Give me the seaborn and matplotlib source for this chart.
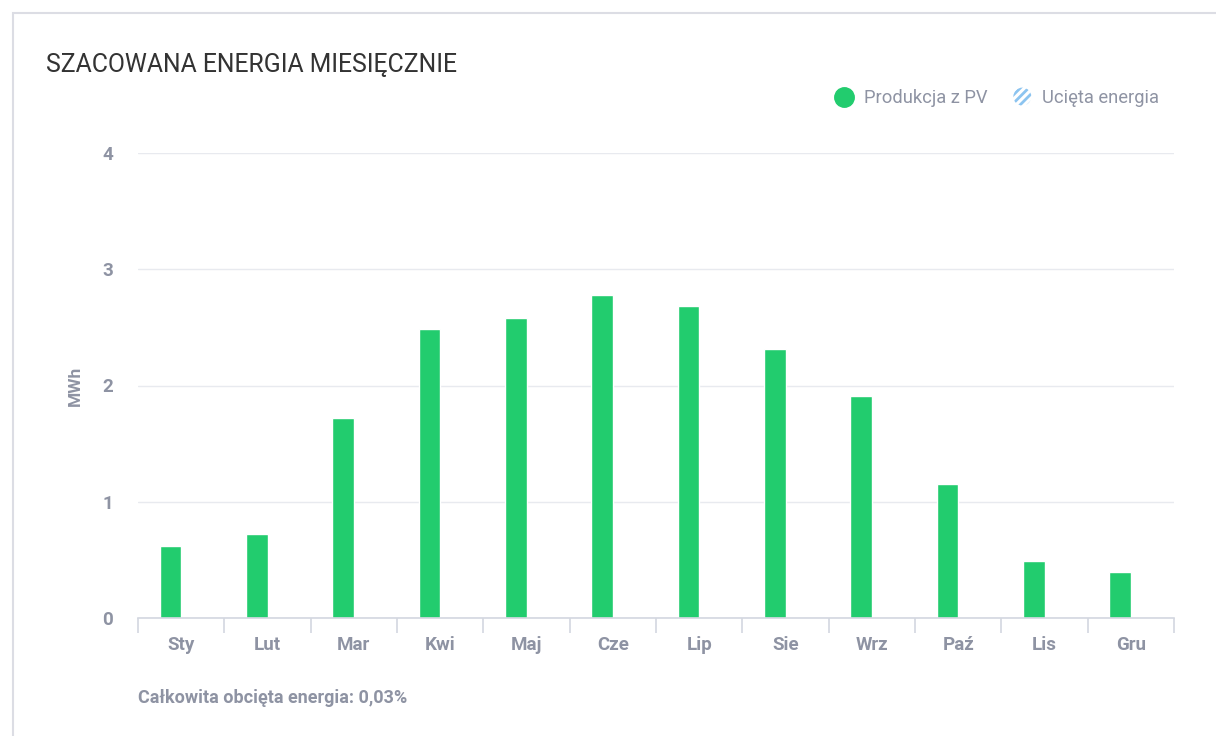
import matplotlib
matplotlib.use('Agg')
import matplotlib.pyplot as plt
import matplotlib.patches as mpatches
from matplotlib.legend_handler import HandlerPatch
from matplotlib.lines import Line2D
import seaborn as sns
import pandas as pd

months = ['Sty', 'Lut', 'Mar', 'Kwi', 'Maj', 'Cze', 'Lip', 'Sie', 'Wrz', 'Paź', 'Lis', 'Gru']
production = [0.62, 0.72, 1.72, 2.49, 2.58, 2.78, 2.68, 2.31, 1.91, 1.15, 0.49, 0.40]
curtailed = [0, 0, 0, 0, 0, 0, 0, 0, 0, 0, 0, 0]
series = ['Produkcja z PV', 'Ucięta energia']
y_ticks = [0, 1, 2, 3, 4]

df = pd.DataFrame({
    'month': months * 2,
    'mwh': production + curtailed,
    'series': [series[0]] * len(months) + [series[1]] * len(months),
})

sns.set_theme(style='white')
plt.rcParams['font.family'] = ['Roboto', 'DejaVu Sans']
plt.rcParams['hatch.linewidth'] = 2.0

green = '#22cc6e'
blue = '#8cc4f0'
grey_txt = '#8e93a3'
grid_col = '#e8eaef'


class CircleHatch(HandlerPatch):
    # round legend icon filled with stripes
    def create_artists(self, legend, orig_handle, xdescent, ydescent, width, height, fontsize, trans):
        c = mpatches.Circle((width / 2 - xdescent, height / 2 - ydescent), radius=height * 0.7,
                            facecolor='white', edgecolor=blue, hatch='////', linewidth=0,
                            transform=trans)
        return [c]


fig = plt.figure(figsize=(12.16, 7.36), dpi=100)
# card border
fig.patches.append(mpatches.Rectangle((13 / 1216, -0.01), 1.1, (736 - 13) / 736 + 0.01,
                                      transform=fig.transFigure, fill=False,
                                      edgecolor='#dcdde4', linewidth=1.5))

ax = fig.add_axes([138 / 1216, (736 - 618) / 736, (1174 - 138) / 1216, (618 - 153) / 736])
sns.barplot(data=df, x='month', y='mwh', hue='series', palette=[green, blue],
            width=0.5, saturation=1, legend=False, ax=ax)

ax.set_ylim(0, 4)
ax.set_xlim(-0.5, len(months) - 0.5)
ax.set_yticks(y_ticks)
ax.yaxis.grid(True, color=grid_col, linewidth=1)
ax.set_axisbelow(True)
for s in ['top', 'right', 'left']:
    ax.spines[s].set_visible(False)
ax.spines['bottom'].set_color('#d3d7e0')
ax.spines['bottom'].set_linewidth(1.2)

ax.set_xticks([i - 0.5 for i in range(len(months) + 1)], minor=True)
ax.tick_params(axis='x', which='minor', length=11, width=1.2, color='#d3d7e0', bottom=True)
ax.tick_params(axis='x', which='major', length=0, pad=13, labelsize=13.5, labelcolor=grey_txt)
ax.tick_params(axis='y', length=0, pad=18, labelsize=13.5, labelcolor=grey_txt)
for lbl in ax.get_xticklabels() + ax.get_yticklabels():
    lbl.set_fontweight('bold')

ax.set_xlabel('')
ax.set_ylabel('MWh', fontsize=12.5, color=grey_txt, labelpad=14, fontweight='bold')

fig.text(46 / 1216, 1 - 65 / 736, 'SZACOWANA ENERGIA MIESIĘCZNIE', fontsize=17.8,
         color='#333333', va='center', ha='left')

handles = [
    Line2D([0], [0], marker='o', linestyle='none', markersize=14,
           markerfacecolor=green, markeredgecolor=green, label=series[0]),
    mpatches.Patch(facecolor='white', edgecolor=blue, hatch='////', linewidth=0,
                   label=series[1]),
]
leg = fig.legend(handles=handles, loc='center right', bbox_to_anchor=(1176 / 1216, 1 - 98 / 736),
                 ncol=2, frameon=False, fontsize=13.2, handlelength=1.0, handletextpad=0.6,
                 columnspacing=1.4, handler_map={mpatches.Patch: CircleHatch()})
for t in leg.get_texts():
    t.set_color(grey_txt)

fig.text(138 / 1216, 1 - 698 / 736, 'Całkowita obcięta energia: 0,03%', fontsize=13,
         color=grey_txt, fontweight='bold', va='center', ha='left')

fig.savefig('out.png', dpi=100)
